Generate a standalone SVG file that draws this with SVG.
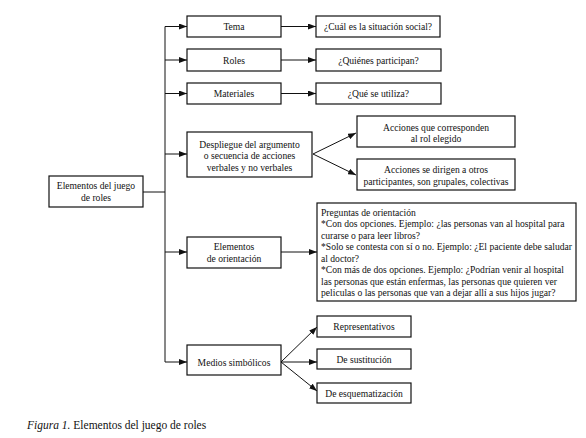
<svg xmlns="http://www.w3.org/2000/svg" width="586" height="438" viewBox="0 0 586 438" font-family="Liberation Serif" font-size="9.6">
<defs>
<marker id="arr" markerWidth="8" markerHeight="6" refX="8" refY="3" orient="auto" markerUnits="userSpaceOnUse">
<path d="M0,0 L8,3 L0,6 z" fill="#111"/>
</marker>
</defs>
<style>
rect.b{fill:#fff;stroke:#111;stroke-width:1.2}
text{fill:#111}
text.c{text-anchor:middle}
.con line{stroke:#111;stroke-width:1;fill:none}
.con .a{marker-end:url(#arr)}
</style>
<rect width="586" height="438" fill="#fff"/>
<g class="con" id="connectors">
<line x1="143" y1="192" x2="165" y2="192"/>
<line x1="165" y1="26.5" x2="165" y2="362"/>
<line class="a" x1="165" y1="26.5" x2="187" y2="26.5"/>
<line class="a" x1="165" y1="60" x2="187" y2="60"/>
<line class="a" x1="165" y1="93.5" x2="187" y2="93.5"/>
<line class="a" x1="165" y1="154" x2="187" y2="154"/>
<line class="a" x1="165" y1="252" x2="187" y2="252"/>
<line class="a" x1="165" y1="362" x2="187" y2="362"/>
<line class="a" x1="281" y1="26.5" x2="316" y2="26.5"/>
<line class="a" x1="281" y1="60" x2="316" y2="60"/>
<line class="a" x1="281" y1="93.5" x2="316" y2="93.5"/>
<line class="a" x1="313" y1="154" x2="356" y2="133"/>
<line class="a" x1="313" y1="154" x2="356" y2="175"/>
<line class="a" x1="281" y1="252" x2="317" y2="252"/>
<line class="a" x1="281" y1="362" x2="317" y2="327"/>
<line class="a" x1="281" y1="362" x2="317" y2="362"/>
<line class="a" x1="281" y1="362" x2="317" y2="391"/>
</g>
<g id="root">
<rect class="b" x="49" y="176" width="94" height="31"/>
<text class="c" x="96" y="189">Elementos del juego</text>
<text class="c" x="96" y="201">de roles</text>
</g>
<g id="tema">
<rect class="b" x="187" y="16" width="94" height="21"/>
<text class="c" x="234" y="30">Tema</text>
</g>
<g id="roles">
<rect class="b" x="187" y="49" width="94" height="22"/>
<text class="c" x="234" y="63.5">Roles</text>
</g>
<g id="materiales">
<rect class="b" x="187" y="83" width="94" height="21"/>
<text class="c" x="234" y="97">Materiales</text>
</g>
<g id="despliegue">
<rect class="b" x="187" y="132" width="125" height="45"/>
<text class="c" x="249.5" y="147.5">Despliegue del argumento</text>
<text class="c" x="249.5" y="159">o secuencia de acciones</text>
<text class="c" x="249.5" y="170.5">verbales y no verbales</text>
</g>
<g id="orientacion">
<rect class="b" x="187" y="237" width="94" height="31"/>
<text class="c" x="234" y="250">Elementos</text>
<text class="c" x="234" y="262">de orientación</text>
</g>
<g id="medios">
<rect class="b" x="187" y="345" width="94" height="30"/>
<text class="c" x="234" y="365.5">Medios simbólicos</text>
</g>
<g id="cual">
<rect class="b" x="316" y="16" width="124" height="21"/>
<text class="c" x="378" y="30">¿Cuál es la situación social?</text>
</g>
<g id="quienes">
<rect class="b" x="316" y="49" width="125" height="22"/>
<text class="c" x="378.5" y="63.5">¿Quiénes participan?</text>
</g>
<g id="que">
<rect class="b" x="316" y="83" width="125" height="21"/>
<text class="c" x="378.5" y="97">¿Qué se utiliza?</text>
</g>
<g id="acciones1">
<rect class="b" x="357" y="116" width="158" height="31"/>
<text class="c" x="436" y="131">Acciones que corresponden</text>
<text class="c" x="436" y="142">al rol elegido</text>
</g>
<g id="acciones2">
<rect class="b" x="357" y="159" width="158" height="31"/>
<text class="c" x="436" y="173">Acciones se dirigen a otros</text>
<text class="c" x="436" y="185">participantes, son grupales, colectivas</text>
</g>
<g id="preguntas">
<rect class="b" x="317" y="203" width="259" height="98"/>
<text x="321" y="215.5">Preguntas de orientación</text>
<text x="321" y="227">*Con dos opciones. Ejemplo: ¿las personas van al hospital para</text>
<text x="321" y="238.5">curarse o para leer libros?</text>
<text x="321" y="250">*Solo se contesta con sí o no. Ejemplo: ¿El paciente debe saludar</text>
<text x="321" y="261.5">al doctor?</text>
<text x="321" y="273">*Con más de dos opciones. Ejemplo: ¿Podrían venir al hospital</text>
<text x="321" y="284.5">las personas que están enfermas, las personas que quieren ver</text>
<text x="321" y="296">peliculas o las personas que van a dejar allí a sus hijos jugar?</text>
</g>
<g id="representativos">
<rect class="b" x="317" y="316" width="94" height="21"/>
<text class="c" x="364" y="330">Representativos</text>
</g>
<g id="sustitucion">
<rect class="b" x="317" y="349" width="94" height="20"/>
<text class="c" x="364" y="363">De sustitución</text>
</g>
<g id="esquematizacion">
<rect class="b" x="317" y="383" width="94" height="20"/>
<text class="c" x="364" y="396.5">De esquematización</text>
</g>
<text x="27" y="429" font-size="11.5"><tspan font-style="italic">Figura 1.</tspan> Elementos del juego de roles</text>
</svg>
